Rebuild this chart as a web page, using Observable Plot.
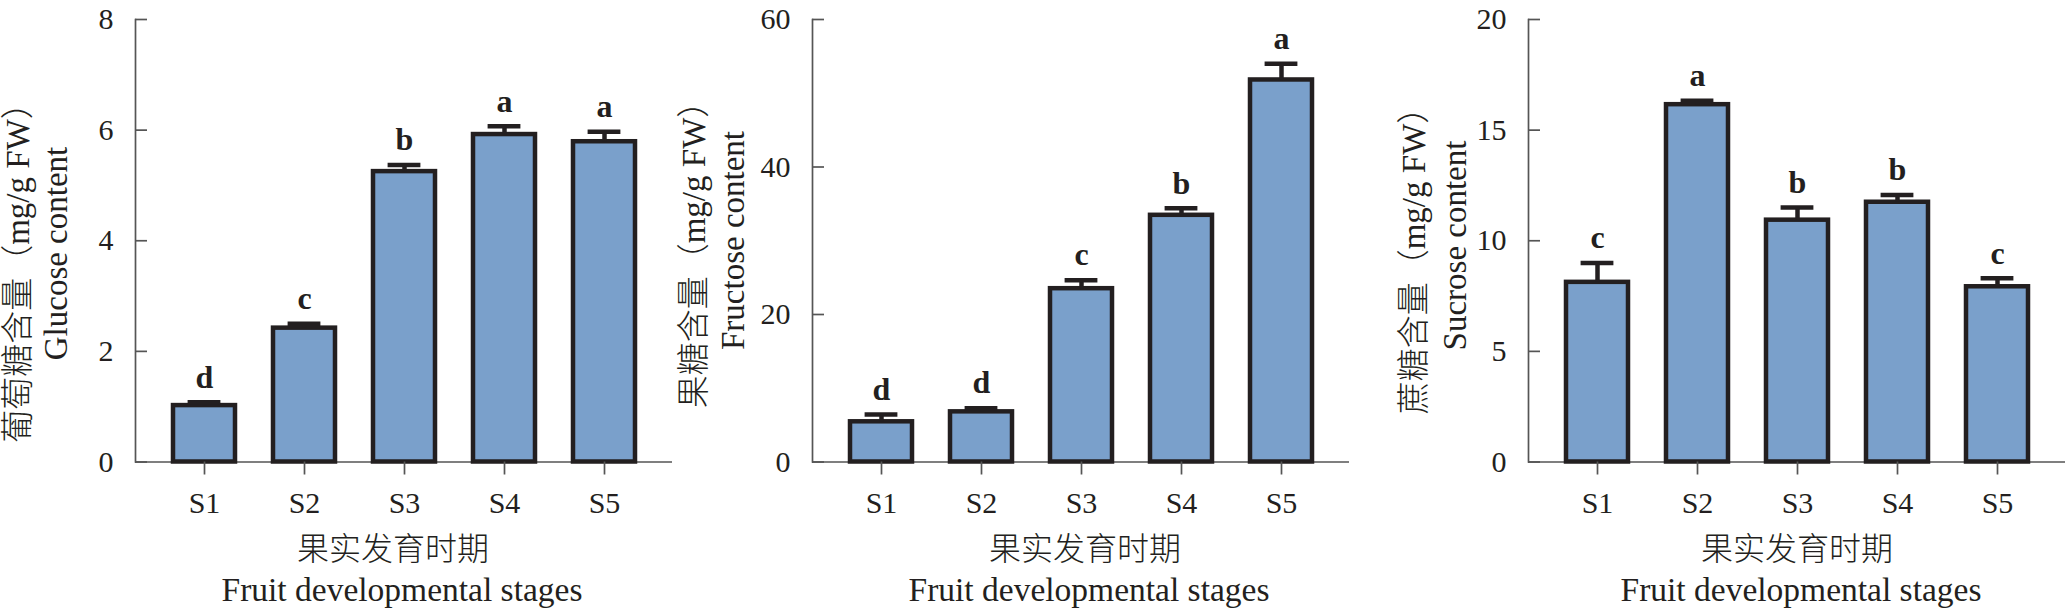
<!DOCTYPE html>
<html>
<head>
<meta charset="utf-8">
<script src="https://cdn.jsdelivr.net/npm/d3@7"></script>
<script src="https://cdn.jsdelivr.net/npm/@observablehq/plot@0.6"></script>
<style>
  html, body { margin: 0; padding: 0; background: #ffffff; }
  #wrap { position: relative; width: 2065px; height: 611px; overflow: hidden; background: #ffffff; }
  #wrap svg { position: absolute; top: 0; }
</style>
</head>
<body>
<div id="wrap"></div>
<script>
// ---- data ----
const stages = ["S1", "S2", "S3", "S4", "S5"];

const glucose = [1.02, 2.42, 5.25, 5.92, 5.79];
const glucoseErr = [0.06, 0.08, 0.12, 0.15, 0.18];
const glucoseLetters = ["d", "c", "b", "a", "a"];
const glucoseTicks = [0, 2, 4, 6, 8];

const fructose = [5.45, 6.8, 23.5, 33.45, 51.8];
const fructoseErr = [0.98, 0.5, 1.15, 0.95, 2.2];
const fructoseLetters = ["d", "d", "c", "b", "a"];
const fructoseTicks = [0, 20, 40, 60];

const sucrose = [8.12, 16.15, 10.93, 11.74, 7.92];
const sucroseErr = [0.88, 0.18, 0.57, 0.33, 0.38];
const sucroseLetters = ["c", "a", "b", "b", "c"];
const sucroseTicks = [0, 5, 10, 15, 20];

const xLabelCN = "果实发育时期";
const xLabelEN = "Fruit developmental stages";

// ---- style ----
const fillColor = "#7aa0cb";
const inkColor = "#231f20";
const axisColor = "#555555";
const FONT = "'Liberation Serif', 'Noto Sans CJK SC', serif";

const W = 672, H = 611, ML = 135, MT = 19, MB = 149.5;
const frameW = W - ML;

function panel(cfg) {
  const data = stages.map((s, i) => ({
    stage: s, value: cfg.values[i], err: cfg.errs[i],
    top: cfg.values[i] + cfg.errs[i], letter: cfg.letters[i]
  }));
  const frameMidY = MT + (H - MT - MB) / 2;
  return Plot.plot({
    width: W, height: H,
    marginLeft: ML, marginRight: 0, marginTop: MT, marginBottom: MB,
    style: { fontFamily: FONT, color: inkColor, background: "transparent", overflow: "visible" },
    x: { type: "band", domain: stages, paddingInner: 0.38, paddingOuter: 0.36 },
    y: { domain: [0, cfg.ticks[cfg.ticks.length - 1]] },
    marks: [
      Plot.frame({ anchor: "left", stroke: axisColor, strokeWidth: 1.7 }),
      Plot.ruleY([0], { stroke: axisColor, strokeWidth: 1.7 }),
      Plot.tickY(cfg.ticks, { y: d => d, insetRight: frameW - 12, stroke: axisColor, strokeWidth: 1.7 }),
      Plot.barY(data, { x: "stage", y: "value", fill: fillColor, stroke: inkColor, strokeWidth: 4.5 }),
      Plot.ruleX(data, { x: "stage", y1: "value", y2: "top", stroke: inkColor, strokeWidth: 4.5 }),
      Plot.tickY(data, { x: "stage", y: "top", stroke: inkColor, strokeWidth: 4.5, insetLeft: 14.6, insetRight: 14.6 }),
      Plot.text(data, { x: "stage", y: "top", text: "letter", dy: -25, fontWeight: "bold", fontSize: 32, fill: inkColor }),
      Plot.axisY({ ticks: cfg.ticks, tickSize: 0, tickPadding: 22, fontSize: 30, label: null, fill: inkColor }),
      Plot.axisX({ tickSize: 13, tickPadding: 17, fontSize: 30, label: null, stroke: axisColor, strokeWidth: 1.7, fill: inkColor }),
      Plot.text([cfg.label1], { text: d => d, frameAnchor: "left", dx: cfg.l1dx, dy: cfg.l1mid - frameMidY, rotate: -90, textAnchor: "middle", lineAnchor: "middle", fontSize: 33, fontWeight: 300, fill: inkColor }),
      Plot.text([cfg.label2], { text: d => d, frameAnchor: "left", dx: cfg.l2dx, dy: cfg.l2mid - frameMidY, rotate: -90, textAnchor: "middle", lineAnchor: "middle", fontSize: 33, fill: inkColor }),
      Plot.text([xLabelCN], { text: d => d, frameAnchor: "bottom", dx: cfg.cndx, dy: 88, lineAnchor: "middle", fontSize: 32, fontWeight: 300, fill: inkColor }),
      Plot.text([xLabelEN], { text: d => d, frameAnchor: "bottom", dx: cfg.endx, dy: 127.8, lineAnchor: "middle", fontSize: 33.5, fill: inkColor })
    ]
  });
}

const wrap = document.getElementById("wrap");
const panels = [
  { left: 0, values: glucose, errs: glucoseErr, letters: glucoseLetters, ticks: glucoseTicks,
    label1: "葡萄糖含量（mg/g FW）", label2: "Glucose content", l1dx: -117, l2dx: -79, l1mid: 264, l2mid: 253, cndx: -11, endx: -2 },
  { left: 677, values: fructose, errs: fructoseErr, letters: fructoseLetters, ticks: fructoseTicks,
    label1: "果糖含量（mg/g FW）", label2: "Fructose content", l1dx: -118, l2dx: -79, l1mid: 246, l2mid: 240, cndx: 4, endx: 8 },
  { left: 1393, values: sucrose, errs: sucroseErr, letters: sucroseLetters, ticks: sucroseTicks,
    label1: "蔗糖含量（mg/g FW）", label2: "Sucrose content", l1dx: -114, l2dx: -73, l1mid: 252, l2mid: 245, cndx: 0, endx: 4 }
];
for (const p of panels) {
  const svg = panel(p);
  svg.style.left = p.left + "px";
  wrap.appendChild(svg);
}
</script>
</body>
</html>
